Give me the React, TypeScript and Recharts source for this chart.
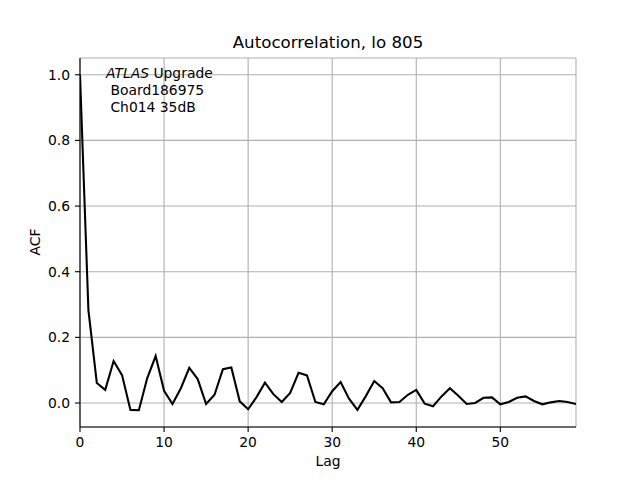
import React from 'react';
import {
  LineChart, Line, XAxis, YAxis, CartesianGrid,
} from 'recharts';

const acfValues = [
  1.0, 0.283, 0.061, 0.04, 0.128, 0.085, -0.021, -0.022, 0.076, 0.143,
  0.037, -0.003, 0.045, 0.107, 0.073, -0.003, 0.025, 0.103, 0.108, 0.005,
  -0.019, 0.018, 0.062, 0.027, 0.003, 0.031, 0.092, 0.084, 0.003, -0.004,
  0.036, 0.064, 0.013, -0.021, 0.021, 0.067, 0.045, 0.002, 0.003, 0.025,
  0.04, -0.002, -0.01, 0.02, 0.045, 0.022, -0.003, 0.0, 0.016, 0.017,
  -0.004, 0.003, 0.016, 0.02, 0.006, -0.004, 0.002, 0.006, 0.003, -0.003,
];
const xTicks = [0, 10, 20, 30, 40, 50];
const yTicks = [0, 0.2, 0.4, 0.6, 0.8, 1.0];
const xDomain = [0, 59];
const yDomain = [-0.0731, 1.0511];

const data = acfValues.map((v, i) => ({ lag: i, acf: v }));

const font = '"DejaVu Sans", sans-serif';
const tickStyle = { fill: '#000', fontSize: 13.89, fontFamily: font };

const App: React.FC = () => {
  return (
    <div style={{ position: 'absolute', left: 0, top: 0, width: 640, height: 480, background: '#fff' }}>
      <LineChart
        width={640}
        height={480}
        data={data}
        margin={{ top: 58, right: 64, bottom: 23, left: 20 }}
      >
        <CartesianGrid stroke="#b0b0b0" strokeWidth={1.1} />
        <XAxis
          dataKey="lag"
          type="number"
          domain={xDomain}
          ticks={xTicks}
          height={30}
          allowDataOverflow
          axisLine={{ stroke: '#000', strokeWidth: 1.1 }}
          tickLine={{ stroke: '#000', strokeWidth: 1.1 }}
          tickSize={5}
          tickMargin={5}
          tick={tickStyle}
        />
        <XAxis
          xAxisId="top"
          orientation="top"
          dataKey="lag"
          type="number"
          domain={xDomain}
          height={0}
          tick={false}
          tickLine={false}
          axisLine={{ stroke: '#000', strokeWidth: 1.1 }}
        />
        <YAxis
          type="number"
          domain={yDomain}
          ticks={yTicks}
          width={60}
          allowDataOverflow
          tickFormatter={(v: number) => v.toFixed(1)}
          axisLine={{ stroke: '#000', strokeWidth: 1.1 }}
          tickLine={{ stroke: '#000', strokeWidth: 1.1 }}
          tickSize={5}
          tickMargin={5}
          tick={tickStyle}
        />
        <YAxis
          yAxisId="right"
          orientation="right"
          type="number"
          domain={yDomain}
          width={0}
          tick={false}
          tickLine={false}
          axisLine={{ stroke: '#000', strokeWidth: 1.1 }}
        />
        <Line
          type="linear"
          dataKey="acf"
          stroke="#000"
          strokeWidth={2.08}
          dot={false}
          activeDot={false}
          isAnimationActive={false}
        />
      </LineChart>

      {/* title and axis labels */}
      <div style={{ position: 'absolute', left: 80, width: 496, top: 33, textAlign: 'center', fontFamily: font, fontSize: 16.67 }}>
        Autocorrelation, lo 805
      </div>
      <div style={{ position: 'absolute', left: 80, width: 496, top: 453, textAlign: 'center', fontFamily: font, fontSize: 13.89 }}>
        Lag
      </div>
      <div
        style={{
          position: 'absolute', left: 35, top: 242, fontFamily: font, fontSize: 13.89, color: '#000',
          transform: 'translate(-50%, -50%) rotate(-90deg)', whiteSpace: 'nowrap',
        }}
      >
        ACF
      </div>

      {/* annotation */}
      <div style={{ position: 'absolute', left: 106, top: 65, fontFamily: font, fontSize: 13.89, lineHeight: '17px', whiteSpace: 'pre' }}>
        <div><i>ATLAS</i> Upgrade</div>
        <div>{' Board186975'}</div>
        <div>{' Ch014 35dB'}</div>
      </div>
    </div>
  );
};

export default App;
